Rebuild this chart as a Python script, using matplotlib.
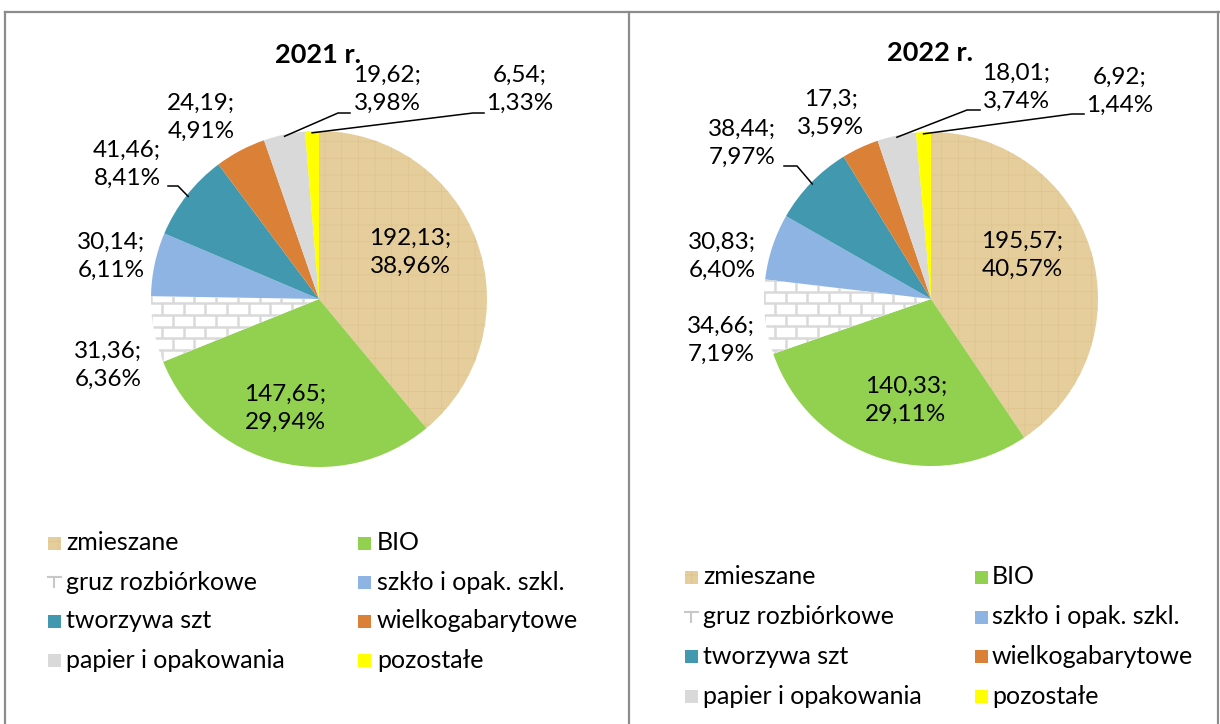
#!/usr/bin/env python3
"""
Two pie charts: waste collected in 2021 and 2022 (Mg and share), Excel look.
"""
import numpy as np
import matplotlib
matplotlib.use('Agg')
import matplotlib.pyplot as plt
from matplotlib.patches import Rectangle
from matplotlib.lines import Line2D
from matplotlib.collections import LineCollection

plt.rcParams['font.family'] = ['Lato', 'DejaVu Sans']
plt.rcParams['hatch.linewidth'] = 0.5

W, H = 1220, 724

categories = ['zmieszane', 'BIO', 'gruz rozbiórkowe', 'szkło i opak. szkl.',
              'tworzywa szt', 'wielkogabarytowe', 'papier i opakowania', 'pozostałe']
values_2021 = [192.13, 147.65, 31.36, 30.14, 41.46, 24.19, 19.62, 6.54]
values_2022 = [195.57, 140.33, 34.66, 30.83, 38.44, 17.3, 18.01, 6.92]
years = ['2021 r.', '2022 r.']

colors = ['#E6CE9C', '#92D050', '#FFFFFF', '#8EB4E3',
          '#4198AF', '#DA8137', '#D9D9D9', '#FFFF00']

# layout, in pixels of the 1220x724 picture
panels = [
    dict(center=(319, 299), radius=168, title=(318, 55),
         labels=[(410, 252), (285, 408), (108, 365), (111, 256),
                 (127, 164), (201, 117), (387, 89), (520, 89)],
         leaders={4: [(178, 186), (168, 186)],
                  6: [(338, 113), (350, 113)],
                  7: [(473, 113), (484, 113)]},
         leg_rows=[543, 582, 621, 660], leg_cols=[(48, 66), (358, 377)]),
    dict(center=(931, 299), radius=167, title=(930, 53),
         labels=[(1022, 255), (906, 400), (721, 340), (722, 256),
                 (742, 143), (831, 113), (1016, 87), (1120, 91)],
         leaders={4: [(797, 166), (784, 166)],
                  6: [(967, 110), (980, 110)],
                  7: [(1072, 114), (1084, 114)]},
         leg_rows=[577, 617, 656, 696], leg_cols=[(685, 703), (975, 992)]),
]


def fpt(x, y):
    return (x / W, 1 - y / H)


def fmt(v):
    return str(v).replace('.', ',')


def brick_fill(ax, wedge):
    # light gray brick wall, clipped to the wedge
    h, w = 11.7 / 168, 21.7 / 168
    segs = []
    for i, y0 in enumerate(np.arange(-1.0, 1.0, h)):
        segs.append([(-1.05, y0), (1.05, y0)])
        off = (i % 2) * w / 2
        for x0 in np.arange(-1.0 - off, 1.05, w):
            segs.append([(x0, y0), (x0, y0 + h)])
    lc = LineCollection(segs, colors='#D9D9D9', linewidths=1.8, zorder=3)
    ax.add_collection(lc)
    lc.set_clip_path(wedge)


fig = plt.figure(figsize=(W / 100, H / 100), dpi=100)

for year, values, p in zip(years, [values_2021, values_2022], panels):
    cx, cy = p['center']
    r = p['radius']
    x0, y0 = fpt(cx - r, cy + r)
    ax = fig.add_axes([x0, y0, 2 * r / W, 2 * r / H])
    wedges, _ = ax.pie(values, colors=colors, startangle=90, counterclock=False,
                       radius=1, wedgeprops=dict(linewidth=0))
    ax.set_xlim(-1, 1)
    ax.set_ylim(-1, 1)
    ax.axis('off')

    # papyrus-like texture on "zmieszane"
    wedges[0].set_hatch('+')
    wedges[0].set_edgecolor('#DCC38E')
    brick_fill(ax, wedges[2])

    total = sum(values)
    for i, v in enumerate(values):
        pct = '{:.2f}%'.format(v / total * 100).replace('.', ',')
        lx, ly = fpt(*p['labels'][i])
        fig.text(lx, ly, '{};\n{}'.format(fmt(v), pct), ha='center', va='center',
                 fontsize=17.5, linespacing=1.4, color='black')

    to_fig = fig.transFigure.inverted()
    for i, pts in p['leaders'].items():
        wd = wedges[i]
        th = np.deg2rad((wd.theta1 + wd.theta2) / 2)
        start = to_fig.transform(ax.transData.transform((0.99 * np.cos(th), 0.99 * np.sin(th))))
        xs = [start[0]] + [fpt(*q)[0] for q in pts]
        ys = [start[1]] + [fpt(*q)[1] for q in pts]
        fig.add_artist(Line2D(xs, ys, color='black', lw=1.1, transform=fig.transFigure))

    tx, ty = fpt(*p['title'])
    fig.text(tx, ty, year, ha='center', va='center', fontsize=19.5, fontweight='bold')

    # legend, two columns
    for i, name in enumerate(categories):
        row, col = divmod(i, 2)
        mx, txx = p['leg_cols'][col]
        yy = p['leg_rows'][row]
        rx, ry = fpt(mx, yy + 6.5)
        sq = Rectangle((rx, ry), 13 / W, 13 / H, transform=fig.transFigure,
                       facecolor=colors[i], edgecolor='none', lw=0)
        if i == 0:
            sq.set_hatch('+')
            sq.set_edgecolor('#DCC38E')
        fig.add_artist(sq)
        if i == 2:
            # small piece of the brick pattern
            bx, by = fpt(mx, yy - 5)
            bx2, _ = fpt(mx + 13, yy)
            bmx, by2 = fpt(mx + 6, yy + 5)
            fig.add_artist(Line2D([bx, bx2], [by, by], color='#C8C8C8', lw=1.5,
                                  transform=fig.transFigure))
            fig.add_artist(Line2D([bmx, bmx], [by, by2], color='#C8C8C8', lw=1.5,
                                  transform=fig.transFigure))
        fig.text(*fpt(txx, yy), name, ha='left', va='center', fontsize=18)

# frame lines
frame = dict(color='#8C8C8C', lw=1.6, transform=fig.transFigure)
fig.add_artist(Line2D([fpt(5, 0)[0], fpt(1219, 0)[0]], [fpt(0, 12)[1]] * 2, **frame))
for xv in [5, 629, 1218]:
    fig.add_artist(Line2D([fpt(xv, 0)[0]] * 2, [fpt(0, 12)[1], 0], **frame))

plt.savefig('out.png', dpi=100)
